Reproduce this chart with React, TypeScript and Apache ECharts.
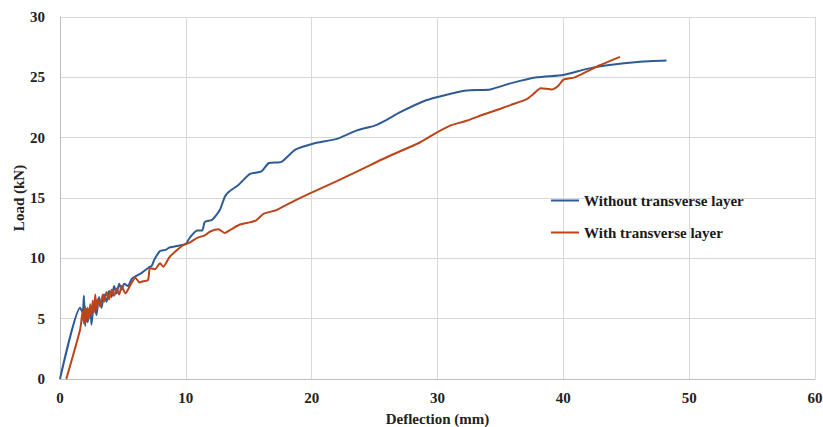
import React, { useEffect, useRef } from "react";
import * as echarts from "echarts";

const seriesNames = ["Without transverse layer", "With transverse layer"];

const withoutX = [0, 1.6, 1.8, 1.9, 2.0, 2.1, 2.2, 2.4, 2.5, 2.7, 2.9, 3.1, 3.3, 3.5, 3.7, 3.9, 4.1, 4.3, 4.5, 4.7, 4.9, 5.1, 5.4, 5.7, 6.0, 6.5, 7.0, 7.3, 7.5, 7.95, 8.4, 8.7, 10.0, 10.3, 10.9, 11.3, 11.5, 12.1, 12.7, 13.1, 13.4, 14.2, 15.1, 16.0, 16.6, 17.6, 18.7, 20.1, 22.0, 23.6, 25.0, 26.0, 27.0, 29.1, 30.5, 32.3, 34.2, 35.8, 37.9, 40.0, 41.9, 43.5, 46.1, 48.2];
const withoutY = [0, 5.9, 5.5, 6.9, 4.4, 5.8, 4.7, 6.0, 4.5, 6.3, 5.3, 6.8, 5.9, 7.0, 6.4, 7.3, 6.8, 7.7, 7.1, 7.9, 7.4, 7.9, 7.7, 8.3, 8.5, 8.8, 9.2, 9.4, 9.9, 10.6, 10.7, 10.9, 11.2, 11.7, 12.3, 12.3, 13.0, 13.2, 14.0, 15.1, 15.5, 16.1, 17.0, 17.2, 17.9, 18.0, 19.0, 19.5, 19.9, 20.6, 21.0, 21.5, 22.1, 23.1, 23.5, 23.9, 24.0, 24.5, 25.0, 25.2, 25.7, 26.0, 26.3, 26.4];

const withX = [0.5, 1.6, 1.8, 1.9, 2.0, 2.1, 2.2, 2.3, 2.4, 2.5, 2.6, 2.7, 2.8, 2.9, 3.0, 3.2, 3.4, 3.5, 3.7, 3.9, 4.1, 4.3, 4.5, 4.7, 4.9, 5.2, 5.6, 6.0, 6.3, 6.6, 7.0, 7.15, 7.55, 7.95, 8.2, 8.7, 9.3, 9.8, 10.3, 10.9, 11.5, 11.9, 12.6, 13.1, 13.6, 14.3, 15.5, 16.2, 17.2, 18.5, 19.9, 22.0, 24.0, 26.0, 28.6, 29.9, 31.0, 32.3, 33.6, 35.0, 35.8, 37.1, 37.6, 38.2, 39.1, 39.6, 40.0, 40.9, 41.9, 42.9, 44.5];
const withY = [0, 4.1, 5.6, 4.6, 6.0, 4.8, 5.9, 5.0, 6.2, 5.2, 6.5, 5.5, 7.0, 5.8, 6.6, 6.0, 7.0, 6.4, 7.2, 6.6, 7.4, 6.9, 7.5, 7.0, 7.7, 7.1, 7.8, 8.4, 8.0, 8.1, 8.2, 9.2, 9.1, 9.6, 9.3, 10.1, 10.7, 11.1, 11.3, 11.7, 11.9, 12.2, 12.4, 12.1, 12.4, 12.8, 13.1, 13.7, 14.0, 14.7, 15.4, 16.4, 17.4, 18.4, 19.6, 20.4, 21.0, 21.4, 21.9, 22.4, 22.7, 23.2, 23.6, 24.1, 24.0, 24.3, 24.8, 25.0, 25.5, 26.0, 26.7];

const xTicks = [0, 10, 20, 30, 40, 50, 60];
const yTicks = [0, 5, 10, 15, 20, 25, 30];

const pair = (xs: number[], ys: number[]) => xs.map((x, i) => [x, ys[i]]);

export default function App() {
  const ref = useRef<HTMLDivElement>(null);
  useEffect(() => {
    if (!ref.current) return;
    const chart = echarts.init(ref.current, null, { renderer: "svg" });
    const font = "'Liberation Serif', 'Times New Roman', serif";
    chart.setOption({
      animation: false,
      backgroundColor: "#ffffff",
      grid: { left: 60, right: 8, top: 17, bottom: 48, containLabel: false, outerBoundsMode: "none" },
      legend: {
        orient: "vertical",
        left: 546,
        top: 188,
        itemGap: 17,
        itemWidth: 28,
        itemHeight: 2,
        icon: "rect",
        data: seriesNames,
        textStyle: { fontFamily: font, fontWeight: "bold", fontSize: 15, color: "#1a1a1a" },
      },
      xAxis: {
        type: "value",
        min: xTicks[0],
        max: xTicks[xTicks.length - 1],
        interval: 10,
        name: "Deflection (mm)",
        nameLocation: "middle",
        nameGap: 32,
        nameTextStyle: { fontFamily: font, fontWeight: "bold", fontSize: 15, color: "#222" },
        axisLine: { show: true, lineStyle: { color: "#bfbfbf" } },
        axisTick: { show: false },
        axisLabel: { fontFamily: font, fontWeight: "bold", fontSize: 15, color: "#222", margin: 11 },
        splitLine: { show: true, lineStyle: { color: "#d9d9d9" } },
      },
      yAxis: {
        type: "value",
        min: yTicks[0],
        max: yTicks[yTicks.length - 1],
        interval: 5,
        name: "Load (kN)",
        nameLocation: "middle",
        nameGap: 34,
        nameMoveOverlap: false,
        nameTextStyle: { fontFamily: font, fontWeight: "bold", fontSize: 15, color: "#222" },
        axisLine: { show: true, lineStyle: { color: "#bfbfbf" } },
        axisTick: { show: false },
        axisLabel: { fontFamily: font, fontWeight: "bold", fontSize: 15, color: "#222", margin: 15 },
        splitLine: { show: true, lineStyle: { color: "#d9d9d9" } },
      },
      series: [
        {
          name: seriesNames[0],
          type: "line",
          data: pair(withoutX, withoutY),
          showSymbol: false,
          smooth: 0.2,
          lineStyle: { width: 2, color: "#2e5b94" },
          itemStyle: { color: "#2e5b94" },
        },
        {
          name: seriesNames[1],
          type: "line",
          data: pair(withX, withY),
          showSymbol: false,
          smooth: 0.2,
          lineStyle: { width: 2, color: "#bb4518" },
          itemStyle: { color: "#bb4518" },
        },
      ],
    });
    return () => chart.dispose();
  }, []);
  return <div ref={ref} style={{ width: 823, height: 427, position: "absolute", left: 0, top: 0 }} />;
}
